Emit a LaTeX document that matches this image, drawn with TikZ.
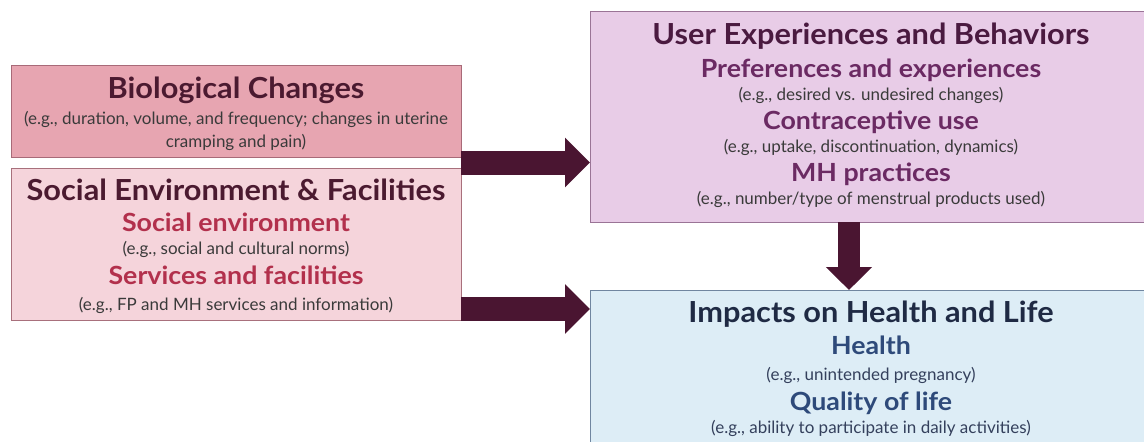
\documentclass[tikz,border=0pt]{standalone}
\usepackage{fontspec}
\usepackage{graphicx}
\setmainfont{Lato}
\usetikzlibrary{arrows.meta,calc}

\definecolor{bioFill}{HTML}{E7A5B1}
\definecolor{bioLine}{HTML}{A86A78}
\definecolor{socFill}{HTML}{F5D4DB}
\definecolor{socLine}{HTML}{A8707C}
\definecolor{userFill}{HTML}{E8CCE7}
\definecolor{userLine}{HTML}{9A7496}
\definecolor{impFill}{HTML}{DDEDF6}
\definecolor{impLine}{HTML}{7086A0}
\definecolor{arrowCol}{HTML}{4A1531}
\definecolor{wine}{HTML}{4B1A30}
\definecolor{rose}{HTML}{B2304C}
\definecolor{plumDark}{HTML}{4A1A40}
\definecolor{plum}{HTML}{6B2A63}
\definecolor{navy}{HTML}{1F2A44}
\definecolor{steel}{HTML}{2E4A7A}
\definecolor{bodyGray}{HTML}{3A3A3A}
\definecolor{bodyBlue}{HTML}{34405C}

% slightly widened bold lettering for headings
\newcommand\headtxt[1]{\scalebox{1.06}[1]{#1}}
\newcommand\subtxt[1]{\scalebox{1.07}[1]{#1}}

\tikzset{
  panel/.style={draw, line width=0.8pt, inner sep=0pt, outer sep=0pt},
  headline/.style={anchor=base, inner sep=0pt, font=\fontsize{29}{33}\selectfont\bfseries},
  subline/.style={anchor=base, inner sep=0pt, font=\fontsize{25}{29}\selectfont\bfseries},
  bodyline/.style={anchor=base, inner sep=0pt, font=\fontsize{17}{20}\selectfont},
  bigarrow/.style={arrowCol, line width=24pt, -{Triangle[length=25pt,width=48pt]}},
  downarrow/.style={arrowCol, line width=22pt, -{Triangle[length=23pt,width=45pt]}}
}

\begin{document}
\begin{tikzpicture}[x=1pt,y=-1pt]
\useasboundingbox (0,0) rectangle (1144,442);

% boxes
\node[panel, fill=bioFill, draw=bioLine, minimum width=450pt, minimum height=92pt, anchor=north west] (bio) at (11,65) {};
\node[panel, fill=socFill, draw=socLine, minimum width=450pt, minimum height=152pt, anchor=north west] (soc) at (11,168) {};
\node[panel, fill=userFill, draw=userLine, minimum width=560pt, minimum height=211pt, anchor=north west] (user) at (590,11) {};
\node[panel, fill=impFill, draw=impLine, minimum width=560pt, minimum height=170pt, anchor=north west] (imp) at (590,290) {};

% biological changes
\node[headline, text=wine] (bioT) at (236,98) {\headtxt{Biological Changes}};
\node[bodyline, text=bodyGray] (bioB1) at (236,124) {(e.g., duration, volume, and frequency; changes in uterine};
\node[bodyline, text=bodyGray] (bioB2) at (236,147) {cramping and pain)};

% social environment and facilities
\node[headline, text=wine] (socT) at (236,200) {\headtxt{Social Environment \& Facilities}};
\node[subline, text=rose] (socS1) at (236,231) {\subtxt{Social environment}};
\node[bodyline, text=bodyGray] (socB1) at (236,254) {(e.g., social and cultural norms)};
\node[subline, text=rose] (socS2) at (236,284) {\subtxt{Services and facilities}};
\node[bodyline, text=bodyGray] (socB2) at (236,310) {(e.g., FP and MH services and information)};

% user experiences and behaviors
\node[headline, text=plumDark] (userT) at (871,44) {\headtxt{User Experiences and Behaviors}};
\node[subline, text=plum] (userS1) at (871,77) {\subtxt{Preferences and experiences}};
\node[bodyline, text=bodyGray] (userB1) at (871,100) {(e.g., desired vs. undesired changes)};
\node[subline, text=plum] (userS2) at (871,129) {\subtxt{Contraceptive use}};
\node[bodyline, text=bodyGray] (userB2) at (871,152) {(e.g., uptake, discontinuation, dynamics)};
\node[subline, text=plum] (userS3) at (871,181) {\subtxt{MH practices}};
\node[bodyline, text=bodyGray] (userB3) at (871,204) {(e.g., number/type of menstrual products used)};

% impacts on health and life
\node[headline, text=navy] (impT) at (871,322) {\headtxt{Impacts on Health and Life}};
\node[subline, text=steel] (impS1) at (871,354) {\subtxt{Health}};
\node[bodyline, text=bodyBlue] (impB1) at (871,380) {(e.g., unintended pregnancy)};
\node[subline, text=steel] (impS2) at (871,410) {\subtxt{Quality of life}};
\node[bodyline, text=bodyBlue] (impB2) at (871,433) {(e.g., ability to participate in daily activities)};

% connectors
\coordinate (a1) at ($(bio.south east)!0.5!(soc.north east)$);
\coordinate (a2) at ($(soc.east)+(0,65)$);
\coordinate (a3) at ($(user.south west)+(259,0)$);
\draw[bigarrow] (a1) -- (user.west |- a1);
\draw[bigarrow] (a2) -- (imp.west |- a2);
\draw[downarrow] (a3) -- (imp.north -| a3);
\end{tikzpicture}
\end{document}
